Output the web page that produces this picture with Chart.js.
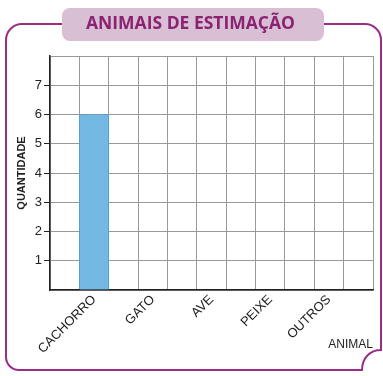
<!DOCTYPE html>
<html>
<head>
<meta charset="utf-8">
<script src="https://cdn.jsdelivr.net/npm/chart.js@4.4.1/dist/chart.umd.min.js"></script>
<style>
  html, body { margin: 0; padding: 0; background: #fff; }
  #wrap { position: relative; width: 383px; height: 376px; }
</style>
</head>
<body>
<div id="wrap"><canvas id="chart" width="383" height="376"></canvas></div>
<script>
// dados do gráfico
const animals = ['CACHORRO', 'GATO', 'AVE', 'PEIXE', 'OUTROS'];
const quantities = [6, 0, 0, 0, 0];
const yMax = 8;

// cada animal ocupa uma coluna, com colunas vazias entre eles
const labels = [''];
const values = [null];
animals.forEach((a, i) => {
    labels.push(a, '');
    values.push(quantities[i] || null, null);
});

const purple = '#9a2d86';

// moldura e caixa do título
const framePlugin = {
    id: 'frame',
    beforeDraw(chart) {
        const ctx = chart.ctx;
        ctx.save();
        ctx.strokeStyle = purple;
        ctx.lineWidth = 2;
        ctx.beginPath();
        ctx.moveTo(6, 40);
        ctx.arcTo(6, 24, 22, 24, 16);
        ctx.lineTo(364, 24);
        ctx.arcTo(381, 24, 381, 40, 16);
        ctx.lineTo(381, 350);
        ctx.bezierCurveTo(370, 350, 362, 358, 362, 370);
        ctx.lineTo(19, 370);
        ctx.arcTo(6, 370, 6, 357, 13);
        ctx.closePath();
        ctx.stroke();

        ctx.fillStyle = '#d8bfd3';
        ctx.beginPath();
        ctx.roundRect(62, 8, 262, 33, 8);
        ctx.fill();
        ctx.restore();
    }
};

new Chart(document.getElementById('chart'), {
    type: 'bar',
    data: {
        labels: labels,
        datasets: [{
            data: values,
            backgroundColor: '#74b9e3',
            borderColor: '#4f9fd8',
            borderWidth: 1,
            barPercentage: 1,
            categoryPercentage: 1,
        }],
    },
    options: {
        responsive: false,
        animation: false,
        layout: { padding: { left: 8, right: 10, top: 0, bottom: 24 } },
        plugins: {
            legend: { display: false },
            tooltip: { enabled: false },
            title: {
                display: true,
                text: 'ANIMAIS DE ESTIMAÇÃO',
                color: '#8b2272',
                font: { family: 'Open Sans', size: 17.5, weight: 'bold' },
                padding: { top: 14, bottom: 21 },
            },
        },
        scales: {
            x: {
                afterFit: (scale) => { scale.height = 62; },
                grid: { color: '#999', lineWidth: 1, drawTicks: false, offset: true },
                border: { color: '#222', width: 1.5 },
                ticks: {
                    autoSkip: false,
                    minRotation: 45,
                    maxRotation: 45,
                    padding: 2,
                    color: '#222',
                    font: { family: 'Liberation Sans', size: 13 },
                },
                title: {
                    display: true,
                    text: 'ANIMAL',
                    align: 'end',
                    color: '#222',
                    font: { family: 'Liberation Sans', size: 12 },
                    padding: { top: 0, bottom: 0 },
                },
            },
            y: {
                min: 0,
                max: yMax,
                afterFit: (scale) => { scale.width = 42; },
                grid: {
                    color: '#999',
                    lineWidth: 1,
                    tickLength: 6,
                    tickColor: (c) => (c.tick && (c.tick.value === 0 || c.tick.value === yMax)) ? 'rgba(0,0,0,0)' : '#222',
                },
                border: { color: '#222', width: 1.5 },
                ticks: {
                    stepSize: 1,
                    padding: 2,
                    color: '#222',
                    font: { family: 'Liberation Sans', size: 13 },
                    callback: (v) => (v === 0 || v === yMax) ? '' : v,
                },
                title: {
                    display: true,
                    text: 'QUANTIDADE',
                    color: '#222',
                    font: { family: 'Liberation Sans', size: 11, weight: 'bold' },
                    padding: { top: 7, bottom: 4 },
                },
            },
        },
    },
    plugins: [framePlugin],
});
</script>
</body>
</html>
